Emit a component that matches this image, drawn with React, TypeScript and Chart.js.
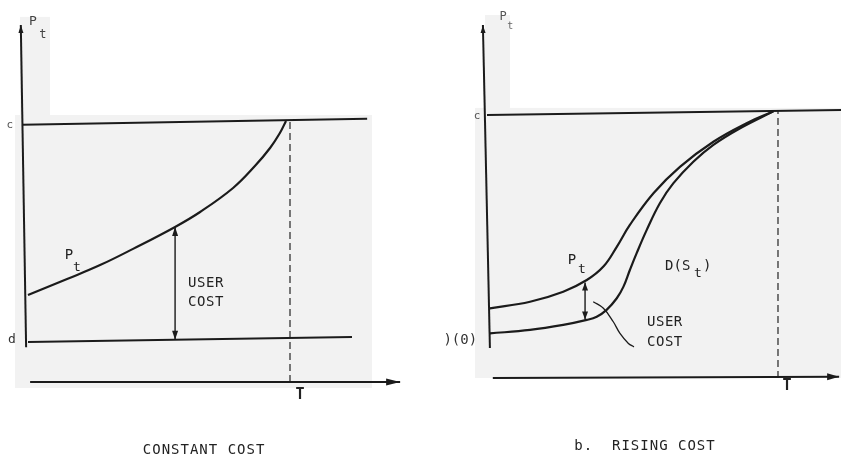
import React, { useEffect, useRef } from "react";
import { Chart, registerables } from "chart.js";

Chart.register(...registerables);

// ---------- data ----------
// common
const exhaustionTime = 10; // T

// Panel a. constant cost
const backstopTimeA = [-0.07, 12.9];
const backstopLevelA = [9.97, 10.2]; // c
const costTimeA = [0.15, 12.33];
const costLevelA = [1.55, 1.74]; // d
const priceTimeA = [0.15, 1.62, 2.86, 4.1, 5.68, 6.62, 7.86, 8.68, 9.25, 9.62, 9.85];
const priceA = [3.37, 3.99, 4.53, 5.16, 6.01, 6.59, 7.52, 8.37, 9.07, 9.65, 10.12];
const userCostTimeA = 5.68;
const userCostRangeA = [6.01, 1.64];

// Panel b. rising cost
const backstopTimeB = [0, 12.2];
const backstopLevelB = [9.96, 10.15]; // c
const priceTimeB = [0.1, 1.48, 2.62, 3.43, 4.0, 4.46, 4.91, 5.72, 6.63, 7.78, 8.92, 9.84];
const priceB = [2.64, 2.89, 3.27, 3.71, 4.22, 4.97, 5.8, 7.0, 8.0, 8.95, 9.65, 10.1];
const costTimeB = [0.1, 1.48, 2.62, 3.43, 3.77, 4.11, 4.46, 4.69, 4.91, 5.14, 5.49, 5.94, 6.4, 7.09, 7.78, 8.7, 9.84];
const costB = [1.69, 1.82, 2.01, 2.2, 2.32, 2.58, 3.02, 3.46, 4.09, 4.72, 5.61, 6.62, 7.37, 8.19, 8.83, 9.46, 10.1]; // D(S_t)
const userCostTimeB = 3.37;
const userCostRangeB = [3.62, 2.22];
const leaderTimeB = [3.65, 4.0, 4.34, 4.57, 4.86, 5.05];
const leaderLevelB = [2.89, 2.64, 2.13, 1.69, 1.31, 1.18];

// axis extents (data units)
const yAxisTimeA = [0.08, -0.12];
const yAxisLevelA = [1.35, 13.84];
const xAxisTimeA = [0.23, 14.14];
const yAxisTimeB = [0.1, -0.14];
const yAxisLevelB = [1.14, 13.37];
const xAxisTimeB = [0.2, 12.1];

// ---------- styling ----------
const INK = "#1b1b1b";
const FONT = '"DejaVu Sans Mono", "Liberation Mono", monospace';
const SHADE = "#f2f2f2";

type Pt = { x: number; y: number };
type Label = {
  text: string;
  t: number;
  p: number;
  size: number;
  align?: CanvasTextAlign;
  bold?: boolean;
  color?: string;
  spacing?: number;
};
type Rect = { t0: number; t1: number; p0: number; p1: number };

const zip = (xs: number[], ys: number[]): Pt[] => xs.map((x, i) => ({ x, y: ys[i] }));

function lineDs(data: Pt[], extra: Record<string, unknown> = {}) {
  return {
    data,
    showLine: true,
    pointRadius: 0,
    borderColor: INK,
    backgroundColor: INK,
    borderWidth: 2,
    fill: false,
    tension: 0,
    ...extra,
  };
}

function makePlugins(labels: Label[], shades: Rect[]) {
  const shade = {
    id: "paperShade",
    beforeDatasetsDraw(chart: any) {
      const { ctx, scales } = chart;
      ctx.save();
      ctx.fillStyle = SHADE;
      for (const r of shades) {
        const x0 = scales.x.getPixelForValue(r.t0);
        const x1 = scales.x.getPixelForValue(r.t1);
        const y0 = scales.y.getPixelForValue(r.p0);
        const y1 = scales.y.getPixelForValue(r.p1);
        ctx.fillRect(Math.min(x0, x1), Math.min(y0, y1), Math.abs(x1 - x0), Math.abs(y1 - y0));
      }
      ctx.restore();
    },
  };
  const arrows = {
    id: "arrowHeads",
    afterDatasetsDraw(chart: any) {
      const { ctx } = chart;
      chart.data.datasets.forEach((ds: any, i: number) => {
        if (!ds.arrows) return;
        const pts = chart.getDatasetMeta(i).data;
        if (pts.length < 2) return;
        const L = ds.arrowLen ?? 9;
        const W = ds.arrowWidth ?? 3.5;
        const draw = (tip: any, from: any) => {
          const dx = tip.x - from.x;
          const dy = tip.y - from.y;
          const len = Math.hypot(dx, dy) || 1;
          const ux = dx / len;
          const uy = dy / len;
          ctx.save();
          ctx.fillStyle = INK;
          ctx.beginPath();
          ctx.moveTo(tip.x, tip.y);
          ctx.lineTo(tip.x - ux * L - uy * W, tip.y - uy * L + ux * W);
          ctx.lineTo(tip.x - ux * L + uy * W, tip.y - uy * L - ux * W);
          ctx.closePath();
          ctx.fill();
          ctx.restore();
        };
        if (ds.arrows === "end" || ds.arrows === "both") draw(pts[pts.length - 1], pts[pts.length - 2]);
        if (ds.arrows === "start" || ds.arrows === "both") draw(pts[0], pts[1]);
      });
    },
  };
  const text = {
    id: "figureText",
    afterDatasetsDraw(chart: any) {
      const { ctx, scales } = chart;
      ctx.save();
      for (const l of labels) {
        ctx.font = `${l.bold ? "bold " : ""}${l.size}px ${FONT}`;
        ctx.fillStyle = l.color ?? "#222";
        ctx.textAlign = l.align ?? "center";
        ctx.textBaseline = "middle";
        (ctx as any).letterSpacing = `${l.spacing ?? 0}px`;
        ctx.fillText(l.text, scales.x.getPixelForValue(l.t), scales.y.getPixelForValue(l.p));
      }
      ctx.restore();
    },
  };
  return [shade, arrows, text];
}

function baseOptions(xr: [number, number], yr: [number, number]) {
  return {
    animation: false as const,
    responsive: false,
    events: [] as any[],
    layout: { padding: 0 },
    plugins: { legend: { display: false }, tooltip: { enabled: false }, title: { display: false } },
    scales: {
      x: { type: "linear" as const, display: false, bounds: "data" as const, min: xr[0], max: xr[1] },
      y: { type: "linear" as const, display: false, bounds: "data" as const, min: yr[0], max: yr[1] },
    },
  };
}

const CURVE = { borderWidth: 2.2, tension: 0.4 };

function configA() {
  const datasets: any[] = [
    lineDs(zip(yAxisTimeA, yAxisLevelA), { arrows: "end", arrowLen: 8, arrowWidth: 2.5 }),
    lineDs(zip(xAxisTimeA, [0, 0]), { arrows: "end", arrowLen: 14, arrowWidth: 3.5 }),
    lineDs(zip(backstopTimeA, backstopLevelA)),
    lineDs(zip(costTimeA, costLevelA)),
    lineDs(zip([exhaustionTime, exhaustionTime], [0, 10.12]), { borderWidth: 1.3, borderDash: [7, 4], borderColor: "#333" }),
    lineDs(zip(priceTimeA, priceA), CURVE),
    lineDs(zip([userCostTimeA, userCostTimeA], userCostRangeA), { borderWidth: 1.4, arrows: "both", arrowLen: 9, arrowWidth: 3 }),
  ];
  const labels: Label[] = [
    { text: "P", t: 0.34, p: 13.95, size: 13, color: "#444" },
    { text: "t", t: 0.71, p: 13.45, size: 12, color: "#444" },
    { text: "c", t: -0.53, p: 9.96, size: 11, color: "#555" },
    { text: "d", t: -0.45, p: 1.63, size: 13, color: "#333" },
    { text: "T", t: 10.38, p: -0.5, size: 15, bold: true },
    { text: "P", t: 1.69, p: 4.92, size: 14 },
    { text: "t", t: 1.99, p: 4.42, size: 13 },
    { text: "USER", t: 6.17, p: 3.84, size: 14, align: "left", spacing: 0.5 },
    { text: "COST", t: 6.17, p: 3.1, size: 14, align: "left", spacing: 0.5 },
    { text: "CONSTANT COST", t: 6.77, p: -2.64, size: 14, spacing: 1 },
  ];
  const shades: Rect[] = [
    { t0: -0.34, t1: 13.08, p0: 10.35, p1: -0.23 },
    { t0: -0.15, t1: 0.98, p0: 14.15, p1: 10.35 },
  ];
  return {
    type: "scatter" as const,
    data: { datasets },
    options: baseOptions([-0.902, 14.887], [-3.062, 14.806]),
    plugins: makePlugins(labels, shades),
  };
}

function configB() {
  const datasets: any[] = [
    lineDs(zip(yAxisTimeB, yAxisLevelB), { arrows: "end", arrowLen: 8, arrowWidth: 2.5 }),
    lineDs(zip(xAxisTimeB, [0, 0.05]), { arrows: "end", arrowLen: 12, arrowWidth: 3.5 }),
    lineDs(zip(backstopTimeB, backstopLevelB)),
    lineDs(zip([exhaustionTime, exhaustionTime], [0, 10.1]), { borderWidth: 1.3, borderDash: [7, 4], borderColor: "#333" }),
    lineDs(zip(priceTimeB, priceB), CURVE),
    lineDs(zip(costTimeB, costB), CURVE),
    lineDs(zip([userCostTimeB, userCostTimeB], userCostRangeB), { borderWidth: 1.4, arrows: "both", arrowLen: 8, arrowWidth: 3 }),
    lineDs(zip(leaderTimeB, leaderLevelB), { borderWidth: 1.3, tension: 0.4 }),
  ];
  const labels: Label[] = [
    { text: "P", t: 0.55, p: 13.67, size: 12, color: "#555" },
    { text: "t", t: 0.8, p: 13.3, size: 10, color: "#666" },
    { text: "c", t: -0.34, p: 9.92, size: 11, color: "#555" },
    { text: ")(0)", t: -0.34, p: 1.44, size: 14, align: "right", color: "#333" },
    { text: "T", t: 10.31, p: -0.3, size: 15, bold: true },
    { text: "P", t: 2.92, p: 4.47, size: 14 },
    { text: "t", t: 3.26, p: 4.09, size: 13 },
    { text: "D(S", t: 6.12, p: 4.24, size: 14, align: "left" },
    { text: "t", t: 7.25, p: 3.94, size: 13 },
    { text: ")", t: 7.42, p: 4.24, size: 14, align: "left" },
    { text: "USER", t: 5.5, p: 2.12, size: 14, align: "left", spacing: 0.5 },
    { text: "COST", t: 5.5, p: 1.36, size: 14, align: "left", spacing: 0.5 },
    { text: "b.  RISING COST", t: 5.43, p: -2.58, size: 14, spacing: 1 },
  ];
  const shades: Rect[] = [
    { t0: -0.41, t1: 12.2, p0: 10.23, p1: 0 },
    { t0: -0.07, t1: 0.79, p0: 13.75, p1: 10.23 },
  ];
  return {
    type: "scatter" as const,
    data: { datasets },
    options: baseOptions([-2.302, 12.165], [-3.144, 14.318]),
    plugins: makePlugins(labels, shades),
  };
}

function Panel({ build, left, width }: { build: () => any; left: number; width: number }) {
  const ref = useRef<HTMLCanvasElement>(null);
  useEffect(() => {
    if (!ref.current) return;
    const chart = new Chart(ref.current, build());
    return () => chart.destroy();
  }, [build]);
  return (
    <div style={{ position: "absolute", left, top: 0, width, height: 461 }}>
      <canvas ref={ref} width={width} height={461} style={{ width, height: 461, display: "block" }} />
    </div>
  );
}

export default function App() {
  return (
    <div
      style={{
        position: "fixed",
        top: 0,
        left: 0,
        width: 841,
        height: 461,
        background: "#ffffff",
        overflow: "hidden",
      }}
    >
      <Panel build={configA} left={0} width={420} />
      <Panel build={configB} left={420} width={421} />
    </div>
  );
}
